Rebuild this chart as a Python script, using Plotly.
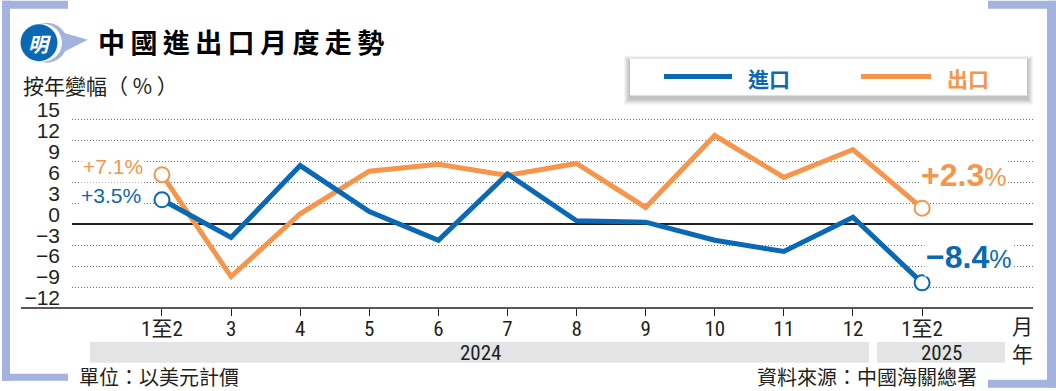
import plotly.graph_objects as go

# ---------------- data ----------------
categories = ["1至2", "3", "4", "5", "6", "7", "8", "9", "10", "11", "12", "1至2"]
years = ["2024", "2025"]
imports_yoy = [3.5, -1.9, 8.4, 1.8, -2.3, 7.2, 0.5, 0.3, -2.3, -3.9, 1.0, -8.4]
exports_yoy = [7.1, -7.5, 1.5, 7.6, 8.6, 7.0, 8.7, 2.4, 12.7, 6.7, 10.7, 2.3]
y_ticks = [15, 12, 9, 6, 3, 0, -3, -6, -9, -12]

# ---------------- styling ----------------
W, H = 1056, 391
L, R, T, B = 72, 1033, 115.5, 308
BLUE = "#0a69b4"
ORANGE = "#f5964c"
TXT = "#231f20"
DECO = "#a3b3de"
CJK = "Noto Sans CJK TC, Noto Sans CJK SC, sans-serif"
NUM = "Liberation Sans, Arial, Noto Sans CJK TC, sans-serif"
NARROW = "Liberation Sans Narrow, Arial Narrow, Roboto Condensed, Liberation Sans, Noto Sans CJK TC, sans-serif"


def px(x):
    return (x - L) / (R - L)


def py(y):
    return (B - y) / (B - T)


xs = list(range(len(categories)))

fig = go.Figure()
fig.add_trace(go.Scatter(x=xs, y=exports_yoy, mode="lines",
                         line=dict(color=ORANGE, width=5), hoverinfo="skip"))
fig.add_trace(go.Scatter(x=xs, y=imports_yoy, mode="lines",
                         line=dict(color=BLUE, width=5), hoverinfo="skip"))
for ys, c in ((exports_yoy, ORANGE), (imports_yoy, BLUE)):
    fig.add_trace(go.Scatter(x=[xs[0], xs[-1]], y=[ys[0], ys[-1]], mode="markers",
                             marker=dict(size=15, color="white", line=dict(color=c, width=2)),
                             hoverinfo="skip"))

shapes = []
annotations = []


def rect(x0, y0, x1, y1, color, layer="above"):
    shapes.append(dict(type="rect", xref="paper", yref="paper",
                       x0=px(x0), x1=px(x1), y0=py(y1), y1=py(y0),
                       fillcolor=color, line=dict(width=0), layer=layer))


def circle(cx, cy, r, color):
    shapes.append(dict(type="circle", xref="paper", yref="paper",
                       x0=px(cx - r), x1=px(cx + r), y0=py(cy + r), y1=py(cy - r),
                       fillcolor=color, line=dict(width=0)))


def text(x, y, s, size, color=TXT, family=CJK, xanchor="left", bg=None):
    d = dict(xref="paper", yref="paper", x=px(x), y=py(y), text=s, showarrow=False,
             xanchor=xanchor, yanchor="middle", font=dict(size=size, color=color, family=family))
    if bg:
        d["bgcolor"] = bg
    annotations.append(d)


# corner decorations
rect(2, 0, 68, 8, DECO)
rect(2, 0, 10, 381, DECO)
rect(2, 374, 68, 381, DECO)
rect(988, 0, 1056, 8, DECO)
rect(1047, 0, 1056, 388, DECO)
rect(988, 380, 1056, 388, DECO)

# logo
circle(47, 42, 20, DECO)
shapes.append(dict(type="path", xref="paper", yref="paper",
                   path="M %f,%f L %f,%f L %f,%f Z" % (px(60), py(31), px(88), py(39), px(62), py(52)),
                   fillcolor=DECO, line=dict(width=0)))
circle(43, 42, 19, "white")
circle(39, 42, 18.5, "#0a69b4")
text(39, 43, "<b><i>明</i></b>", 20, "white", xanchor="center")

# title and axis title
text(96, 41, "<b>中\u2009國\u2009進\u2009出\u2009口\u2009月\u2009度\u2009走\u2009勢</b>", 27, "#000000")
text(21, 84, "按年變幅（ % ）", 21)

# legend box with soft shadow
for i in range(6, 0, -1):
    rect(630 - i, 58 - i + 3, 1027 + i, 95 + i + 3, "rgba(0,0,0,0.045)")
rect(630, 58, 1027, 95, "white")
shapes.append(dict(type="line", xref="paper", yref="paper", x0=px(664), x1=px(732), y0=py(76), y1=py(76),
                   line=dict(color=BLUE, width=5)))
shapes.append(dict(type="line", xref="paper", yref="paper", x0=px(861), x1=px(931), y0=py(76), y1=py(76),
                   line=dict(color=ORANGE, width=5)))
text(746, 77, "<b>進口</b>", 21, BLUE)
text(945, 77, "<b>出口</b>", 21, ORANGE)

# bottom axis line
shapes.append(dict(type="line", xref="paper", yref="paper", x0=px(21), x1=px(1033), y0=py(308), y1=py(308),
                   line=dict(color=TXT, width=1.5)))

# year bands
rect(90, 342, 869, 363, "#e3e4e6")
rect(877, 342, 1005, 363, "#e3e4e6")
text(480, 353, years[0], 21, TXT, NARROW, "center")
text(941, 353, years[1], 21, TXT, NARROW, "center")
text(1022, 325, "月", 21, TXT, CJK, "center")
text(1022, 353, "年", 21, TXT, CJK, "center")

# footer
text(77, 377, "單位：以美元計價", 20)
text(979, 377, "資料來源：中國海關總署", 20, xanchor="right")

# value labels
text(113, 166, "+%.1f%%" % exports_yoy[0], 21, ORANGE, NUM, "center", "white")
text(111, 195, "+%.1f%%" % imports_yoy[0], 21, BLUE, NUM, "center", "white")
text(919, 175, "<b>+%.1f</b><span style='font-size:25px'>%%</span>" % exports_yoy[-1], 32, ORANGE, NUM,
     "left", "white")
text(924, 257, "<b>\u2212%.1f</b><span style='font-size:25px'>%%</span>" % abs(imports_yoy[-1]), 32, BLUE, NUM,
     "left", "white")

fig.update_layout(
    width=W, height=H, autosize=False,
    margin=dict(l=L, r=W - R, t=T, b=H - B, pad=0),
    paper_bgcolor="white", plot_bgcolor="white",
    showlegend=False,
    shapes=shapes, annotations=annotations,
    xaxis=dict(range=[-1.302, 12.605], tickvals=xs, ticktext=categories,
               showgrid=False, zeroline=False, showline=False,
               ticks="outside", ticklen=7, tickwidth=1.2, tickcolor=TXT,
               ticklabelstandoff=-5,
               tickfont=dict(size=21, color=TXT, family=NARROW), fixedrange=True),
    yaxis=dict(range=[-12, 15.5], tickvals=y_ticks,
               showgrid=True, gridcolor="#6d6e71", gridwidth=1, griddash="1px,2px",
               zeroline=True, zerolinecolor=TXT, zerolinewidth=1.5, showline=False,
               ticks="", ticklabelstandoff=11, ticklabelshift=-10,
               tickfont=dict(size=21, color=TXT, family=NUM), fixedrange=True),
)

fig.write_html("out.html", config={"displayModeBar": False},
               post_script="document.body.style.margin='0';document.body.style.overflow='hidden';")
